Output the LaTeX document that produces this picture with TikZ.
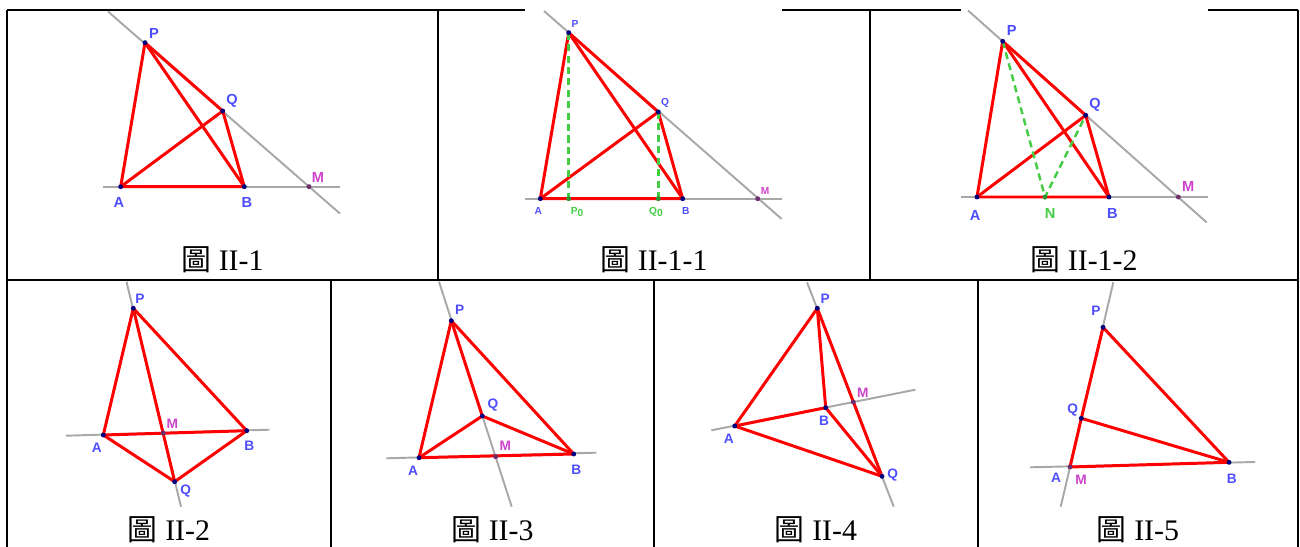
\documentclass[tikz,border=0pt]{standalone}
\usepackage{fontspec}
\setmainfont{Liberation Serif}
\newfontfamily\cjkfont{Noto Sans CJK TC}
\newfontfamily\ptfont{Liberation Sans}
\definecolor{ggred}{HTML}{FF0000}
\definecolor{gggray}{HTML}{A8A8A8}
\definecolor{ggblue}{HTML}{4D4DFF}
\definecolor{ggdot}{HTML}{00007F}
\definecolor{ggpink}{HTML}{CC44CC}
\definecolor{ggpurple}{HTML}{6F2F6F}
\definecolor{gggreen}{HTML}{44CC44}
\usetikzlibrary{calc}

\begin{document}
\begin{tikzpicture}[x=0.02cm, y=-0.02cm,
  frame/.style={draw=black, line width=1.2pt},
  axisln/.style={draw=gggray, line width=1.1pt},
  side/.style={draw=ggred, line width=1.7pt, line join=round, line cap=round},
  proj/.style={draw=gggreen, line width=1.4pt, dash pattern=on 4pt off 2.5pt},
  pt/.style={circle, fill=ggdot, inner sep=0pt, minimum size=2.8pt},
  mpt/.style={pt, fill=ggpurple},
  lbl/.style={font=\ptfont\bfseries\fontsize{8.3}{8.3}\selectfont, text=ggblue, inner sep=0pt},
  slbl/.style={lbl, font=\ptfont\bfseries\fontsize{5.8}{5.8}\selectfont},
  blbl/.style={lbl, font=\ptfont\bfseries\fontsize{7.8}{7.8}\selectfont},
  figcap/.style={font=\fontsize{17}{17}\selectfont, anchor=base, inner sep=0pt}
]
  \useasboundingbox (0,0) rectangle (1300,547);

  % table
  \draw[frame] (7,10) -- (525,10);
  \draw[frame] (782,10) -- (961,10);
  \draw[frame] (1208,10) -- (1298,10);
  \draw[frame] (7,280) -- (1298,280);
  \draw[frame] (7,10) -- (7,547);
  \draw[frame] (1298,10) -- (1298,547);
  \draw[frame] (438,10) -- (438,280);
  \draw[frame] (870,10) -- (870,280);
  \draw[frame] (331,280) -- (331,547);
  \draw[frame] (654,280) -- (654,547);
  \draw[frame] (978,280) -- (978,547);

  % II-1
  \coordinate (P1) at (145,42.7);
  \coordinate (Q1) at (222.7,111);
  \coordinate (A1) at (120.7,186.7);
  \coordinate (B1) at (244.3,186.7);
  \coordinate (M1) at (309,186.7);
  \coordinate (k1a) at (108,11.5);
  \coordinate (k1b) at (340,213.6);
  \coordinate (h1a) at (102.7,186.7);
  \coordinate (h1b) at (340,186.7);
  \draw[axisln] (k1a) -- (k1b);
  \draw[axisln] (h1a) -- (h1b);
  \draw[side] (A1) -- (P1) -- (Q1) -- (B1) -- cycle;
  \draw[side] (A1) -- (Q1);
  \draw[side] (P1) -- (B1);
  \node[pt] (dP1) at (P1) {};
  \node[pt] (dQ1) at (Q1) {};
  \node[pt] (dA1) at (A1) {};
  \node[pt] (dB1) at (B1) {};
  \node[mpt] (dM1) at (M1) {};
  \node[lbl] (tP1) at (154,33) {P};
  \node[lbl] (tQ1) at (232,101) {Q};
  \node[lbl] (tA1) at (119,202) {A};
  \node[lbl] (tB1) at (247,202) {B};
  \node[lbl, text=ggpink] (tM1) at (318,177) {M};
  \node[figcap] (c1) at (222.5,270) {{\cjkfont 圖} II-1};

  % II-1-1
  \coordinate (P2) at (568.7,32.7);
  \coordinate (Q2) at (658.3,112);
  \coordinate (A2) at (540.3,198.7);
  \coordinate (B2) at (682.7,198.7);
  \coordinate (M2) at (757.7,198.7);
  \coordinate (F2) at (568.7,198.7);
  \coordinate (G2) at (658.3,198.7);
  \coordinate (k2a) at (544,11);
  \coordinate (k2b) at (781.7,219);
  \coordinate (h2a) at (525,198.7);
  \coordinate (h2b) at (781.7,198.7);
  \draw[axisln] (k2a) -- (k2b);
  \draw[axisln] (h2a) -- (h2b);
  \draw[side] (A2) -- (P2) -- (Q2) -- (B2) -- cycle;
  \draw[side] (A2) -- (Q2);
  \draw[side] (P2) -- (B2);
  \draw[proj] (P2) -- (F2);
  \draw[proj] (Q2) -- (G2);
  \node[pt] (dP2) at (P2) {};
  \node[pt] (dQ2) at (Q2) {};
  \node[pt] (dA2) at (A2) {};
  \node[pt] (dB2) at (B2) {};
  \node[pt, fill=gggreen!70!black] (dF2) at (F2) {};
  \node[pt, fill=gggreen!70!black] (dG2) at (G2) {};
  \node[mpt] (dM2) at (M2) {};
  \node[slbl] (tP2) at (575,24) {P};
  \node[slbl] (tQ2) at (665,103) {Q};
  \node[slbl] (tA2) at (538.3,211) {A};
  \node[slbl] (tB2) at (685.7,211) {B};
  \node[slbl, text=ggpink] (tM2) at (765,190.7) {M};
  \node[slbl, text=gggreen] (tF2) at (577,212) {P\raisebox{-0.5ex}{0}};
  \node[slbl, text=gggreen] (tG2) at (656,212) {Q\raisebox{-0.5ex}{0}};
  \node[figcap] (c2) at (654,270) {{\cjkfont 圖} II-1-1};

  % II-1-2
  \coordinate (P3) at (1002.7,41.3);
  \coordinate (Q3) at (1085.7,115.3);
  \coordinate (A3) at (977,197);
  \coordinate (B3) at (1109,197);
  \coordinate (M3) at (1178.3,197);
  \coordinate (N3) at (1045,197);
  \coordinate (k3a) at (968,10.5);
  \coordinate (k3b) at (1206.7,222.5);
  \coordinate (h3a) at (961,197);
  \coordinate (h3b) at (1207.7,197);
  \draw[axisln] (k3a) -- (k3b);
  \draw[axisln] (h3a) -- (h3b);
  \draw[side] (A3) -- (P3) -- (Q3) -- (B3) -- cycle;
  \draw[side] (A3) -- (Q3);
  \draw[side] (P3) -- (B3);
  \draw[proj] (P3) -- (N3) -- (Q3);
  \node[pt] (dP3) at (P3) {};
  \node[pt] (dQ3) at (Q3) {};
  \node[pt] (dA3) at (A3) {};
  \node[pt] (dB3) at (B3) {};
  \node[pt, fill=gggreen!70!black] (dN3) at (N3) {};
  \node[mpt] (dM3) at (M3) {};
  \node[lbl] (tP3) at (1011.7,30.7) {P};
  \node[lbl] (tQ3) at (1095,105) {Q};
  \node[lbl] (tA3) at (975,215) {A};
  \node[lbl, text=gggreen] (tN3) at (1050,213.3) {N};
  \node[lbl] (tB3) at (1112.3,213.3) {B};
  \node[lbl, text=ggpink] (tM3) at (1188.3,186.7) {M};
  \node[figcap] (c3) at (1084,270) {{\cjkfont 圖} II-1-2};

  % II-2
  \coordinate (P4) at (133.3,308.3);
  \coordinate (A4) at (103.3,435);
  \coordinate (B4) at (246.7,430.7);
  \coordinate (M4) at (163.3,433);
  \coordinate (Q4) at (174.7,481.7);
  \coordinate (k4a) at (126.5,281.7);
  \coordinate (k4b) at (181,506.7);
  \coordinate (h4a) at (66,435.7);
  \coordinate (h4b) at (269.3,429.7);
  \draw[axisln] (k4a) -- (k4b);
  \draw[axisln] (h4a) -- (h4b);
  \draw[side] (A4) -- (P4) -- (B4) -- (Q4) -- cycle;
  \draw[side] (A4) -- (B4);
  \draw[side] (P4) -- (Q4);
  \node[pt] (dP4) at (P4) {};
  \node[pt] (dQ4) at (Q4) {};
  \node[pt] (dA4) at (A4) {};
  \node[pt] (dB4) at (B4) {};
  \node[mpt] (dM4) at (M4) {};
  \node[blbl] (tP4) at (140,298.3) {P};
  \node[blbl, text=ggpink] (tM4) at (172.3,423.7) {M};
  \node[blbl] (tA4) at (96.7,447.3) {A};
  \node[blbl] (tB4) at (249.3,445.7) {B};
  \node[blbl] (tQ4) at (185.7,491) {Q};
  \node[figcap] (c4) at (169,540) {{\cjkfont 圖} II-2};

  % II-3
  \coordinate (P5) at (451.3,320.7);
  \coordinate (Q5) at (482.3,416);
  \coordinate (A5) at (419,457.7);
  \coordinate (B5) at (573.7,454);
  \coordinate (M5) at (495.7,456.7);
  \coordinate (k5a) at (439,281.7);
  \coordinate (k5b) at (511.7,506.7);
  \coordinate (h5a) at (386.3,458.3);
  \coordinate (h5b) at (596.3,452.7);
  \draw[axisln] (k5a) -- (k5b);
  \draw[axisln] (h5a) -- (h5b);
  \draw[side] (A5) -- (P5) -- (B5) -- cycle;
  \draw[side] (A5) -- (Q5) -- (B5);
  \draw[side] (P5) -- (Q5);
  \node[pt] (dP5) at (P5) {};
  \node[pt] (dQ5) at (Q5) {};
  \node[pt] (dA5) at (A5) {};
  \node[pt] (dB5) at (B5) {};
  \node[mpt] (dM5) at (M5) {};
  \node[blbl] (tP5) at (459.7,310) {P};
  \node[blbl] (tQ5) at (493,405) {Q};
  \node[blbl, text=ggpink] (tM5) at (505.3,446) {M};
  \node[blbl] (tA5) at (413,471) {A};
  \node[blbl] (tB5) at (576.3,469.3) {B};
  \node[figcap] (c5) at (492.5,540) {{\cjkfont 圖} II-3};

  % II-4
  \coordinate (P6) at (817.3,308.3);
  \coordinate (B6) at (825.7,407.7);
  \coordinate (A6) at (734.7,426);
  \coordinate (M6) at (853.3,402);
  \coordinate (Q6) at (882,476.3);
  \coordinate (k6a) at (807,282.3);
  \coordinate (k6b) at (893.7,506.7);
  \coordinate (h6a) at (711.3,430.3);
  \coordinate (h6b) at (915.3,389.7);
  \draw[axisln] (k6a) -- (k6b);
  \draw[axisln] (h6a) -- (h6b);
  \draw[side] (A6) -- (P6) -- (Q6) -- cycle;
  \draw[side] (A6) -- (B6) -- (Q6);
  \draw[side] (P6) -- (B6);
  \node[pt] (dP6) at (P6) {};
  \node[pt] (dQ6) at (Q6) {};
  \node[pt] (dA6) at (A6) {};
  \node[pt] (dB6) at (B6) {};
  \node[mpt] (dM6) at (M6) {};
  \node[blbl] (tP6) at (825.3,298.3) {P};
  \node[blbl, text=ggpink] (tM6) at (862.7,392.3) {M};
  \node[blbl] (tB6) at (824,420.3) {B};
  \node[blbl] (tA6) at (728.7,438.3) {A};
  \node[blbl] (tQ6) at (892.7,475) {Q};
  \node[figcap] (c6) at (816,540) {{\cjkfont 圖} II-4};

  % II-5
  \coordinate (P7) at (1103,327.3);
  \coordinate (Q7) at (1081.3,418.3);
  \coordinate (A7) at (1070,467);
  \coordinate (B7) at (1229,462.3);
  \coordinate (k7a) at (1113.3,282.3);
  \coordinate (k7b) at (1060.7,506.7);
  \coordinate (h7a) at (1030,467.3);
  \coordinate (h7b) at (1255,462);
  \draw[axisln] (k7a) -- (k7b);
  \draw[axisln] (h7a) -- (h7b);
  \draw[side] (A7) -- (Q7) -- (P7) -- (B7) -- cycle;
  \draw[side] (Q7) -- (B7);
  \node[pt] (dP7) at (P7) {};
  \node[pt] (dQ7) at (Q7) {};
  \node[mpt] (dA7) at (A7) {};
  \node[pt] (dB7) at (B7) {};
  \node[blbl] (tP7) at (1096,311) {P};
  \node[blbl] (tQ7) at (1072.7,410) {Q};
  \node[blbl] (tA7) at (1056,477.7) {A};
  \node[blbl, text=ggpink] (tM7) at (1081,479.3) {M};
  \node[blbl] (tB7) at (1231.7,478.3) {B};
  \node[figcap] (c7) at (1138,540) {{\cjkfont 圖} II-5};

\end{tikzpicture}
\end{document}
